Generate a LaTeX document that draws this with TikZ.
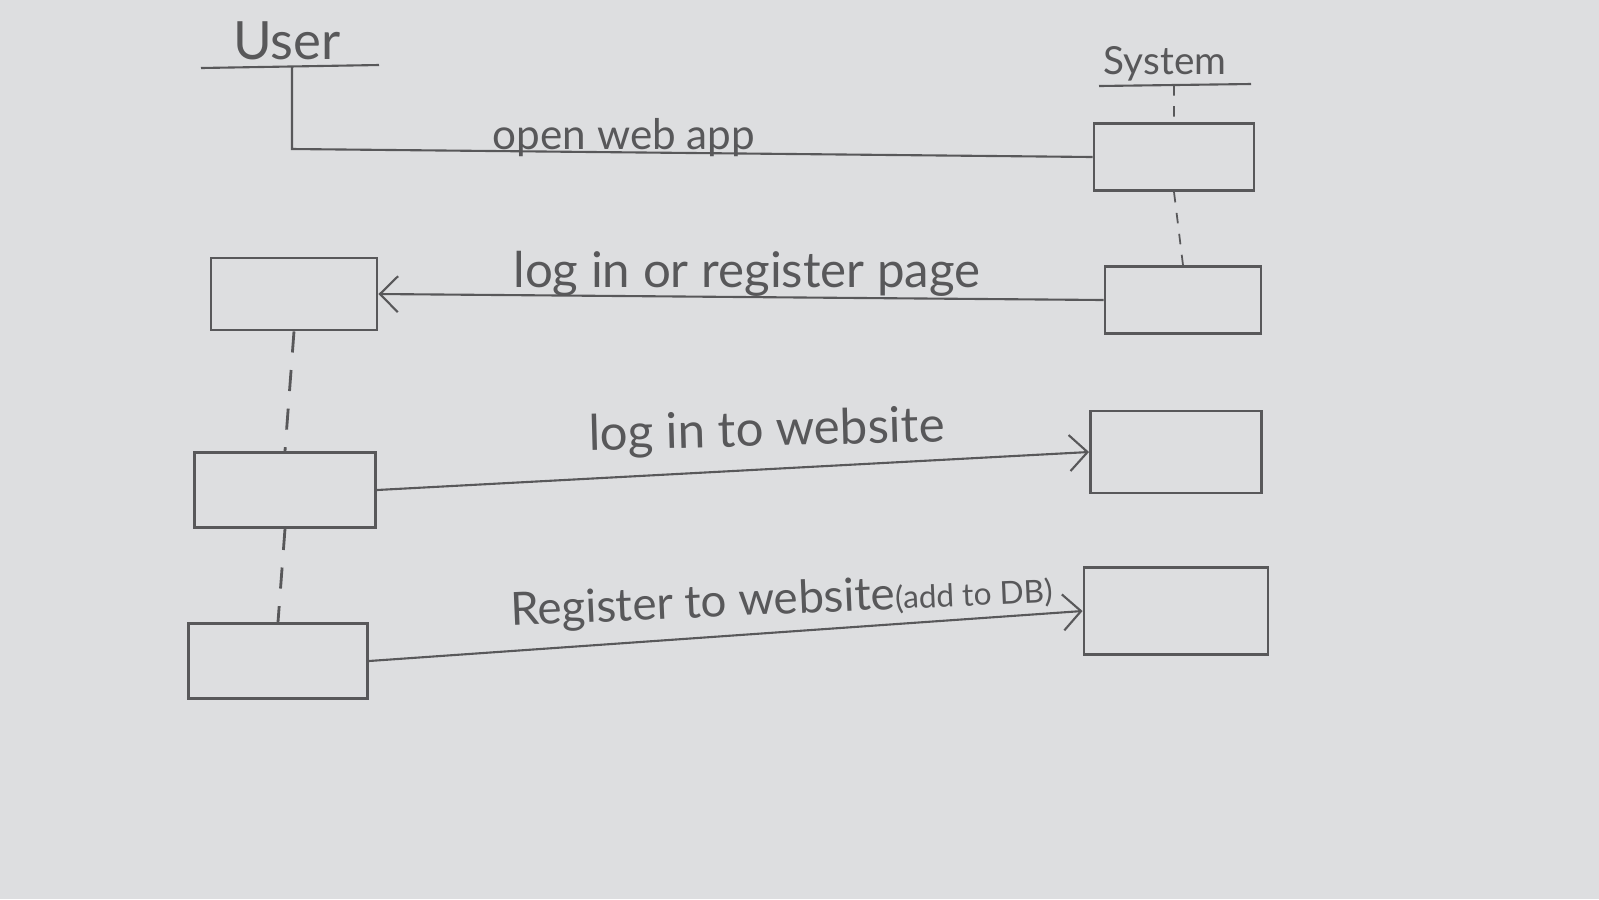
\documentclass[tikz,border=0pt]{standalone}
\usepackage{fontspec}
\setmainfont{Lato}
\usepackage{tikz}
\usepackage{xcolor}
\usetikzlibrary{arrows.meta, positioning}

\definecolor{paper}{RGB}{221,222,224}
\definecolor{pencil}{RGB}{88,88,90}

\tikzset{
    box/.style={draw=pencil, line width=0.8pt, minimum width=#1, minimum height=0.7cm, inner sep=0pt},
    msg/.style={draw=pencil, line width=0.6pt, -{Straight Barb[length=1.8mm, width=3.6mm]}},
    lifeu/.style={draw=pencil, line width=0.8pt, dash pattern=on 6pt off 5pt},
    lifes/.style={draw=pencil, line width=0.5pt, dash pattern=on 3pt off 3pt},
    txt/.style={text=pencil, anchor=base, inner sep=0pt, font=\fontsize{13}{15}\selectfont}
}

\begin{document}
\begin{tikzpicture}[x=0.01cm, y=-0.01cm]
        \fill[paper] (0,0) rectangle (1599,899);
        \useasboundingbox (0,0) rectangle (1599,899);

        % actors
        \node[txt, font=\fontsize{15}{17}\selectfont] (user) at (287,59) {User};
        \coordinate (ul1) at (201,68);
        \coordinate (ul2) at (379,65);
        \node[txt, font=\fontsize{11}{13}\selectfont] (system) at (1165,74) {System};
        \coordinate (sl1) at (1099,86);
        \coordinate (sl2) at (1251,84);
        \draw[pencil, line width=0.6pt] (ul1) -- (ul2)
            (sl1) -- (sl2);

        % activation boxes
        \node[box=1.66cm, minimum height=0.72cm] (u1) at (294,294) {};
        \node[box=1.81cm, minimum height=0.75cm] (u2) at (285,490) {};
        \node[box=1.79cm, minimum height=0.75cm] (u3) at (278,661) {};
        \node[box=1.60cm, minimum height=0.67cm] (s1) at (1174,157) {};
        \node[box=1.56cm, minimum height=0.67cm] (s2) at (1183,300) {};
        \node[box=1.71cm, minimum height=0.82cm] (s3) at (1176,452) {};
        \node[box=1.84cm, minimum height=0.87cm] (s4) at (1176,611) {};

        % lifelines
        \coordinate (ulife) at (292,67);
        \coordinate (uturn) at (292,149);
        \coordinate (slife) at (1174,85);
        \draw[lifes] (slife) -- (s1.north)
            (s1.south) -- (s2.north);
        \draw[lifeu] (u1.south) -- (u2.north)
            (u2.south) -- (u3.north);

        % messages
        \draw[pencil, line width=0.6pt] (ulife) -- (uturn) -- (s1.west);
        \draw[msg] (s2.west) -- (u1.east);
        \draw[msg] (u2.east) -- (s3.west);
        \draw[msg] (u3.east) -- (s4.west);

        \node[txt, font=\fontsize{12}{14}\selectfont] (m1) at (624,149) {open web app};
        \node[txt, font=\fontsize{14}{16}\selectfont] (m2) at (747,287) {log in or register page};
        \node[txt, font=\fontsize{14}{16}\selectfont, rotate=1.5] (m3) at (767,446) {log in to website};
        \node[txt, rotate=2.5] (m4) at (782,614) {Register to website{\fontsize{9}{11}\selectfont(add to DB)}};
    \end{tikzpicture}
\end{document}
